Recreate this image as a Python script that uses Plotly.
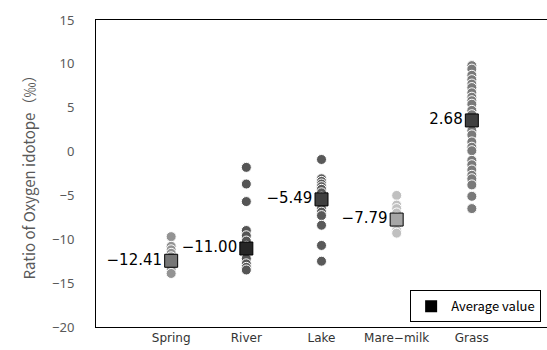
import plotly.graph_objects as go

categories = ["Spring", "River", "Lake", "Mare\u2212milk", "Grass"]
cat_x = [1, 2, 3, 4, 5]

spring = [-9.7, -10.8, -11.2, -11.6, -12.0, -12.6, -13.0, -13.4, -13.9]
river = [-1.8, -3.7, -5.7, -9.0, -9.6, -10.2, -10.8, -11.5, -12.2, -12.8, -13.2, -13.5]
lake = [-0.9, -3.1, -3.4, -3.7, -4.0, -4.3, -4.7, -5.2, -5.8, -6.5, -6.9, -7.3, -8.4, -10.7, -12.5]
mare_milk = [-5.0, -6.1, -6.5, -7.0, -7.5, -8.0, -8.6, -9.0, -9.3]
grass = [9.8, 9.4, 8.7, 8.2, 7.7, 7.3, 6.7, 6.2, 5.8, 5.4, 4.7, 4.2, 3.2, 2.4, 1.9, 1.1,
         0.5, 0.1, -1.0, -1.5, -2.1, -2.7, -3.1, -3.8, -5.1, -6.5]
series = [spring, river, lake, mare_milk, grass]

avg_plotted = [-12.45, -11.05, -5.45, -7.75, 3.55]
avg_labels = [-12.41, -11.00, -5.49, -7.79, 2.68]

dot_colors = ["#939393", "#555555", "#595959", "#c0c0c0", "#7a7a7a"]
avg_colors = ["#767676", "#262626", "#404040", "#a6a6a6", "#404040"]

fig = go.Figure()
for i, vals in enumerate(series):
    fig.add_trace(go.Scatter(
        x=[cat_x[i]] * len(vals), y=vals, mode="markers",
        marker=dict(size=10, color=dot_colors[i], line=dict(color="white", width=1)),
        showlegend=False, hoverinfo="y"))

fig.add_trace(go.Scatter(
    x=cat_x, y=avg_plotted, mode="markers+text",
    text=[f"{v:.2f}".replace("-", "\u2212") for v in avg_labels],
    textposition="middle left",
    textfont=dict(family="DejaVu Sans", size=15, color="black"),
    marker=dict(symbol="square", size=13, color=avg_colors, line=dict(color="black", width=1)),
    showlegend=False))

fig.add_trace(go.Scatter(
    x=[None], y=[None], mode="markers", name="Average value",
    marker=dict(symbol="square", size=12, color="black")))

fig.update_layout(
    width=547, height=350,
    margin=dict(l=96, r=0, t=20, b=23),
    plot_bgcolor="white", paper_bgcolor="white",
    showlegend=True,
    legend=dict(x=0.987, y=0.015, xanchor="right", yanchor="bottom",
                bordercolor="black", borderwidth=1, bgcolor="white",
                font=dict(family="Noto Sans CJK JP", size=13, color="black"),
                itemwidth=30, tracegroupgap=0),
)
fig.update_xaxes(range=[0, 6], tickvals=cat_x, ticktext=categories,
                 showgrid=False, zeroline=False, showline=True, mirror=True,
                 linecolor="black", linewidth=1, ticks="",
                 tickfont=dict(family="DejaVu Sans", size=12, color="#333333"))
fig.update_yaxes(range=[-20, 15], dtick=5, showgrid=False, zeroline=False,
                 showline=True, linecolor="black", linewidth=1, ticks="",
                 ticklabelstandoff=18,
                 tickfont=dict(family="Noto Sans", size=13, color="#595959"),
                 title=dict(text="Ratio of Oxygen idotope\uff08\u2030\uff09", standoff=12,
                            font=dict(family="Noto Sans CJK JP", size=15, color="#595959")))

fig.write_html("out.html")
